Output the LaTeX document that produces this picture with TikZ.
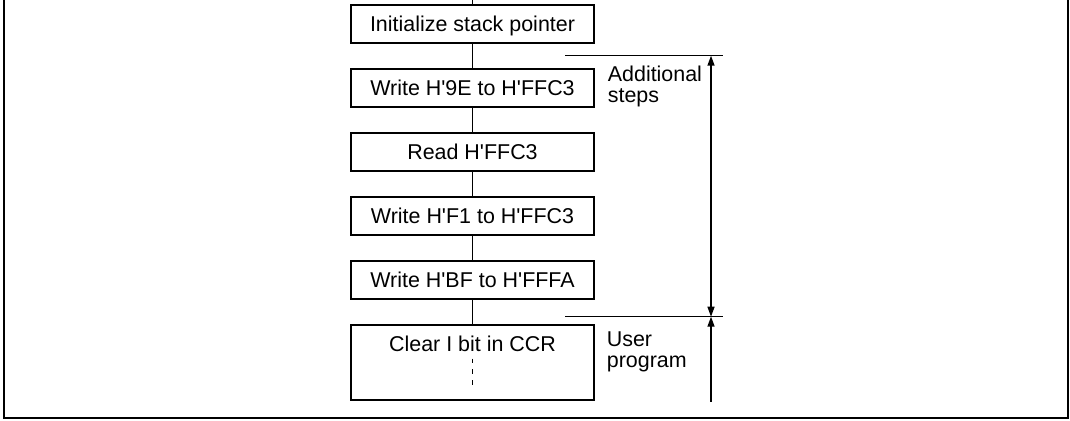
\documentclass[tikz,border=0pt]{standalone}
\usepackage{fontspec}
\newfontfamily\flowfont{Liberation Sans}
\usetikzlibrary{calc}
\usetikzlibrary{arrows.meta}

\begin{document}
\begin{tikzpicture}[stepbox/.style={draw,line width=0.8pt,minimum width=4.86cm,minimum height=0.76cm,inner sep=0pt,text height=0.3cm,text depth=0cm,font=\flowfont\fontsize{12.2}{12}\selectfont},
  sidetext/.style={anchor=north west,inner sep=0pt,align=left,font=\flowfont\fontsize{12.2}{12}\selectfont},
  dim/.style={line width=0.8pt}]

\useasboundingbox (0,0) rectangle (21.4,-8.4);
\draw[line width=1.3pt] (0.08,0) -- (0.08,-8.36) -- (21.36,-8.36) -- (21.36,0);

\coordinate (T) at (9.45,0);
\node[stepbox] (S1) at (9.45,-0.48) {Initialize stack pointer};
\node[stepbox] (S2) at (9.45,-1.76) {Write H'9E to H'FFC3};
\node[stepbox] (S3) at (9.45,-3.04) {Read H'FFC3};
\node[stepbox] (S4) at (9.45,-4.32) {Write H'F1 to H'FFC3};
\node[stepbox] (S5) at (9.45,-5.6) {Write H'BF to H'FFFA};
\node[stepbox,minimum height=1.5cm,text depth=0.73cm] (S6) at (9.45,-7.25) {Clear I bit in CCR};

\draw[dim] (T) -- (S1);
\draw[dim] (S1) -- (S2);
\draw[dim] (S2) -- (S3);
\draw[dim] (S3) -- (S4);
\draw[dim] (S4) -- (S5);
\draw[dim] (S5) -- (S6);

\coordinate (D1) at ($(S6.north)+(0,-0.686)$);
\coordinate (D2) at ($(S6.north)+(0,-1.21)$);
\draw[dim,dash pattern=on 0.094cm off 0.12cm] (D1) -- (D2);

\coordinate (A1) at (11.3,-1.114);
\coordinate (A2) at (14.45,-1.114);
\coordinate (B1) at (11.3,-6.334);
\coordinate (B2) at (14.45,-6.334);
\coordinate (P) at (14.22,-1.114);
\coordinate (Q) at (14.22,-6.334);
\coordinate (R) at (14.22,-8.04);

\draw[dim] (A1) -- (A2);
\draw[dim] (B1) -- (B2);
\draw[dim,{Triangle[length=0.2cm,width=0.14cm]}-{Triangle[length=0.2cm,width=0.14cm]}] (P) -- (Q);
\draw[dim,{Triangle[length=0.2cm,width=0.14cm]}-] (Q) -- (R);

\node[sidetext] (add) at (12.15,-1.32) {Additional\\steps};
\node[sidetext] (usr) at (12.13,-6.63) {User\\program};

\end{tikzpicture}
\end{document}
